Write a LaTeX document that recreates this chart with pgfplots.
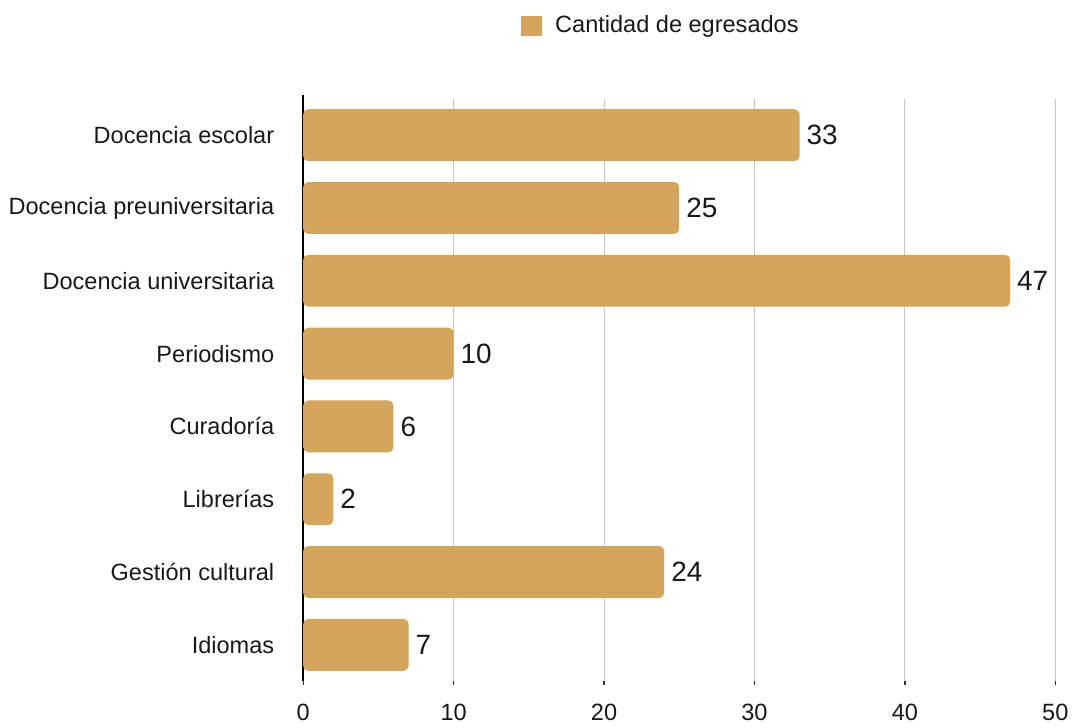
\documentclass[border=0pt]{standalone}
\usepackage{pgfplots}
\pgfplotsset{compat=1.18}
\usepackage{fontspec}
\setmainfont{Liberation Sans}
\definecolor{barc}{RGB}{212,165,92}
\definecolor{txt}{RGB}{25,25,25}
\begin{document}
\begin{tikzpicture}[x=1pt,y=1pt]
% canvas frame to fix size (1px = 0.5pt)
\path (0,0) rectangle (537.5,361.5);
\begin{axis}[
  at={(152pt,20pt)}, anchor=south west,
  scale only axis,
  width=377pt, height=292pt,
  xbar, bar width=26pt,
  xmin=0, xmax=50,
  ymin=-0.5, ymax=7.5,
  y dir=reverse,
  xtick={0,10,20,30,40,50},
  ytick={0,1,2,3,4,5,6,7},
  yticklabels={Docencia escolar,Docencia preuniversitaria,Docencia universitaria,Periodismo,Curadoría,Librerías,Gestión cultural,Idiomas},
  axis y line*=left,
  axis x line*=bottom,
  x axis line style={draw=none},
  y axis line style={draw=black, line width=1pt, shorten <=-2pt},
  xmajorgrids,
  grid style={draw=gray!45, line width=0.5pt},
  xtick style={draw=black!80, line width=0.7pt},
  major tick length=2pt,
  tick align=outside,
  ytick style={draw=none},
  tick label style={font=\fontsize{11.8}{14}\selectfont, text=txt},
  xticklabel style={yshift=-6pt},
  yticklabel style={xshift=-9pt},
  /pgf/number format/assume math mode=true,
  clip=false,
  legend style={at={(0.477,1.125)}, anchor=center, draw=none, fill=none,
     font=\fontsize{11.8}{14}\selectfont, text=txt},
  legend image code/.code={\fill[barc, sharp corners] (-4pt,-5.2pt) rectangle (6.5pt,5.2pt); \path (11pt,0pt);},
  nodes near coords,
  nodes near coords style={font=\fontsize{14}{16}\selectfont, text=txt, anchor=west, xshift=0pt},
]
\addplot[fill=barc, draw=none, rounded corners=2.5pt] coordinates {
  (33,0) (25,1) (47,2) (10,3) (6,4) (2,5) (24,6) (7,7)
};
\addlegendentry{Cantidad de egresados}
\end{axis}
\end{tikzpicture}
\end{document}
